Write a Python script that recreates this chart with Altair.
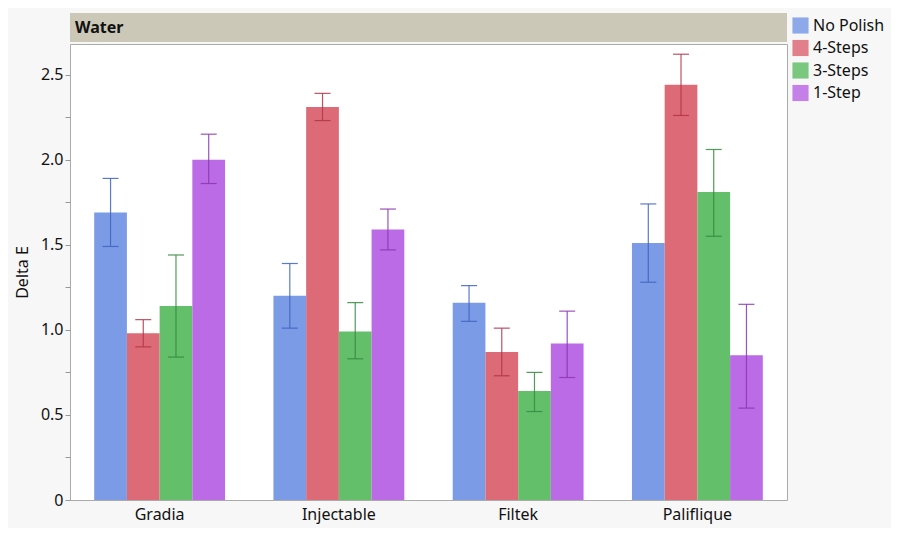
import altair as alt
import pandas as pd

materials = ["Gradia", "Injectable", "Filtek", "Paliflique"]
treatments = ["No Polish", "4-Steps", "3-Steps", "1-Step"]
# values per material, in treatment order
means = {
    "Gradia":     [1.69, 0.98, 1.14, 2.00],
    "Injectable": [1.20, 2.31, 0.99, 1.59],
    "Filtek":     [1.16, 0.87, 0.64, 0.92],
    "Paliflique": [1.51, 2.44, 1.81, 0.85],
}
upper = {
    "Gradia":     [1.89, 1.06, 1.44, 2.15],
    "Injectable": [1.39, 2.39, 1.16, 1.71],
    "Filtek":     [1.26, 1.01, 0.75, 1.11],
    "Paliflique": [1.74, 2.62, 2.06, 1.15],
}
lower = {
    "Gradia":     [1.49, 0.90, 0.84, 1.86],
    "Injectable": [1.01, 2.23, 0.83, 1.47],
    "Filtek":     [1.05, 0.73, 0.52, 0.72],
    "Paliflique": [1.28, 2.26, 1.55, 0.54],
}
bar_colors = ["#7b9be6", "#dd6b77", "#64bf6b", "#bb6be5"]
err_colors = ["#3f63c0", "#b03447", "#358a3e", "#8a36b0"]

rows = []
for m in materials:
    for i, t in enumerate(treatments):
        rows.append({"Material": m, "Treatment": t, "Mean": means[m][i],
                     "Lo": lower[m][i], "Hi": upper[m][i], "ecolor": err_colors[i]})
df = pd.DataFrame(rows)

W, H = 717, 456
FONT = "Noto Sans"
FS = 16

x = alt.X("Material:N", sort=materials, title=None,
          scale=alt.Scale(paddingInner=0.27, paddingOuter=0.135),
          axis=alt.Axis(labelAngle=0, ticks=False, domain=False, labelFontSize=FS,
                        labelColor="#111", labelPadding=6, labelFont=FONT))
xo = alt.XOffset("Treatment:N", sort=treatments, scale=alt.Scale(paddingInner=0, paddingOuter=0))

ylab = "datum.value == 0 ? '0' : ((datum.value * 2) % 1 == 0 ? format(datum.value, '.1f') : '')"
y = alt.Y("Mean:Q", title="Delta E",
          scale=alt.Scale(domain=[0, 2.68], nice=False, zero=True),
          axis=alt.Axis(values=[0, 0.25, 0.5, 0.75, 1, 1.25, 1.5, 1.75, 2, 2.25, 2.5],
                        labelExpr=ylab, grid=False, domain=False, tickColor="#999",
                        tickSize=5, labelFontSize=FS, labelColor="#111", labelFont=FONT,
                        titleFontSize=FS, titleFontWeight="normal", titleColor="#111",
                        titleFont=FONT, titlePadding=10))

base = alt.Chart(df)

bars = base.mark_bar(opacity=1).encode(
    x=x, xOffset=xo, y=y,
    color=alt.Color("Treatment:N", sort=treatments,
                    scale=alt.Scale(domain=treatments, range=bar_colors),
                    legend=alt.Legend(title=None, orient="none", legendX=722, legendY=-27,
                                      symbolType="square", symbolSize=260,
                                      symbolStrokeWidth=0, symbolOpacity=1,
                                      labelFontSize=FS, labelFont=FONT, labelColor="#111",
                                      rowPadding=5.5, labelOffset=4)),
)

rules = base.mark_rule(strokeWidth=1.2, opacity=0.85).encode(
    x=x, xOffset=xo, y=alt.Y("Lo:Q"), y2="Hi:Q",
    color=alt.Color("ecolor:N", scale=None),
)
caps_hi = base.mark_tick(size=16, thickness=1.2, opacity=0.85).encode(
    x=x, xOffset=xo, y=alt.Y("Hi:Q"), color=alt.Color("ecolor:N", scale=None))
caps_lo = base.mark_tick(size=16, thickness=1.2, opacity=0.85).encode(
    x=x, xOffset=xo, y=alt.Y("Lo:Q"), color=alt.Color("ecolor:N", scale=None))

header = alt.Chart(pd.DataFrame({"label": ["Water"]})).mark_rect(
    color="#ccc8b7", clip=False).encode(
    x=alt.value(0), x2=alt.value(W), y=alt.value(-31), y2=alt.value(-2))
header_text = alt.Chart(pd.DataFrame({"label": ["Water"]})).mark_text(
    align="left", baseline="middle", fontSize=FS, fontWeight="bold", font=FONT,
    color="#111").encode(x=alt.value(5), y=alt.value(-16), text="label:N")

chart = alt.layer(bars, rules, caps_hi, caps_lo, header, header_text).properties(
    width=W, height=H,
    autosize=alt.AutoSizeParams(type="none"),
    padding={"left": 62, "top": 36, "right": 104, "bottom": 28},
    background="#f7f7f7",
).configure_view(stroke="#aaaaaa", fill="white", strokeWidth=1)

chart.save("out.html", embed_options={"renderer": "svg", "actions": False})
